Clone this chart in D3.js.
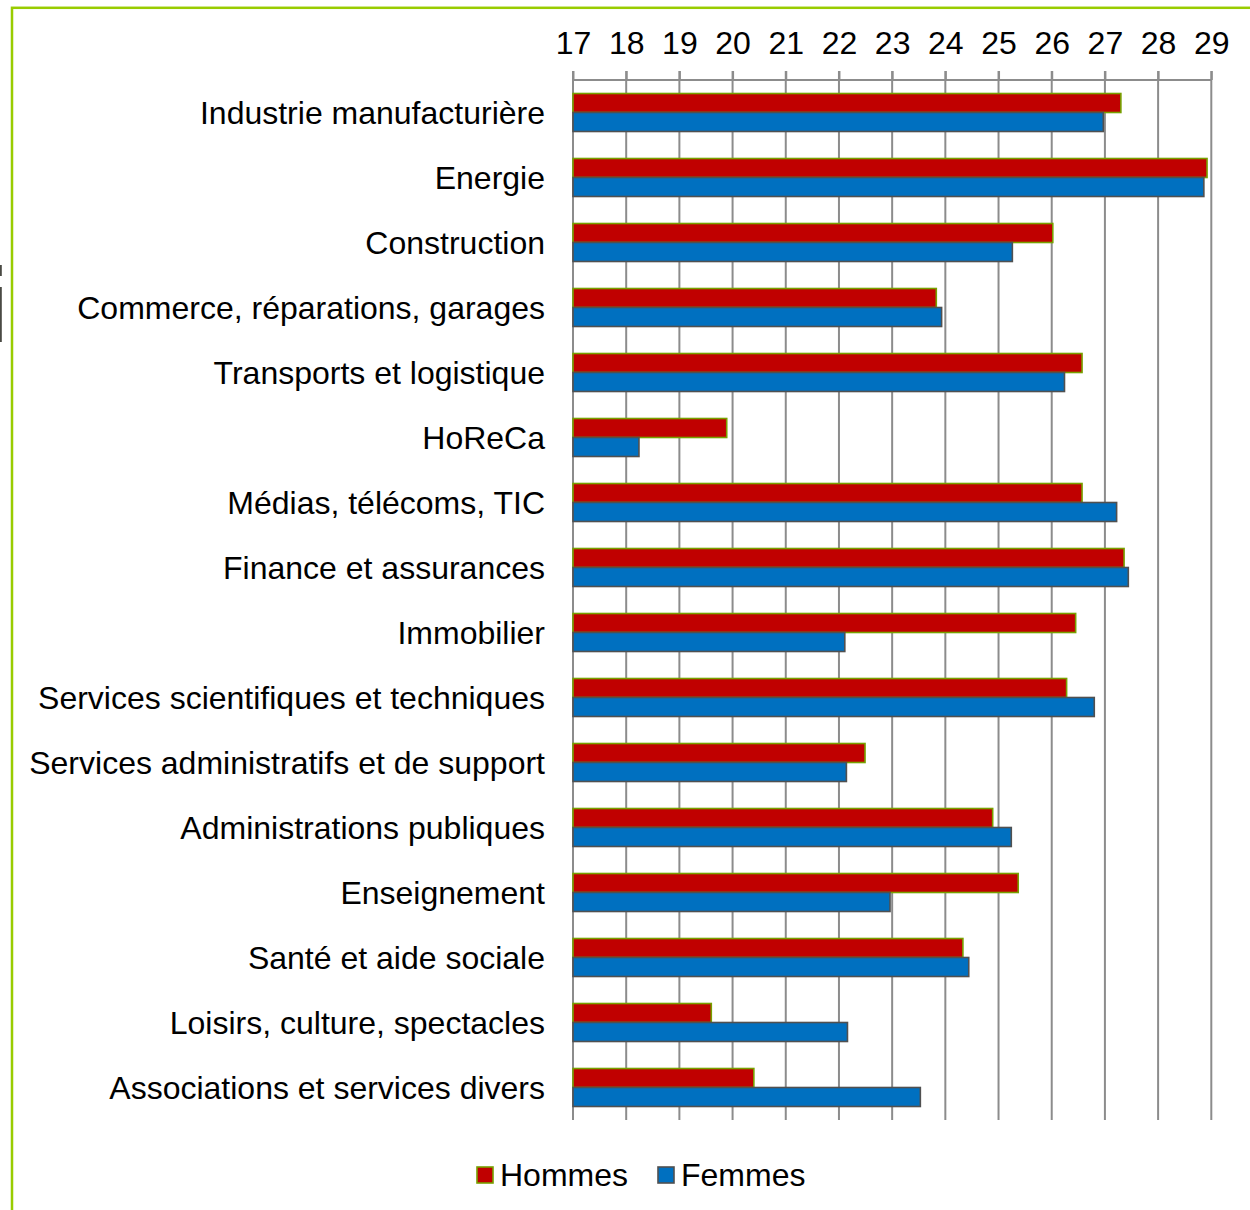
<!DOCTYPE html>
<html>
<head>
<meta charset="utf-8">
<script src="https://cdn.jsdelivr.net/npm/d3@7"></script>
<style>
  html, body { margin: 0; padding: 0; background: #fff; }
  svg { display: block; }
  text { font-family: "Liberation Sans", Arial, sans-serif; fill: #000; }
</style>
</head>
<body>
<svg id="chart" width="1250" height="1210"></svg>
<script>
// Secteurs d'activité
const categories = [
  "Industrie manufacturière",
  "Energie",
  "Construction",
  "Commerce, réparations, garages",
  "Transports et logistique",
  "HoReCa",
  "Médias, télécoms, TIC",
  "Finance et assurances",
  "Immobilier",
  "Services scientifiques et techniques",
  "Services administratifs et de support",
  "Administrations publiques",
  "Enseignement",
  "Santé et aide sociale",
  "Loisirs, culture, spectacles",
  "Associations et services divers"
];

const hommes = [27.3, 28.92, 26.02, 23.83, 26.57, 19.89, 26.57, 27.36, 26.45, 26.28, 22.49, 24.89, 25.37, 24.33, 19.6, 20.4];
const femmes = [26.97, 28.86, 25.26, 23.93, 26.24, 18.24, 27.22, 27.44, 22.11, 26.8, 22.14, 25.24, 22.96, 24.44, 22.16, 23.53];

const seriesNames = ["Hommes", "Femmes"];
const tickValues = [17, 18, 19, 20, 21, 22, 23, 24, 25, 26, 27, 28, 29];

const svg = d3.select("#chart");
const FONT = 32;

// Cadre vert
svg.append("rect")
  .attr("x", 12).attr("y", 7.8)
  .attr("width", 1300).attr("height", 1300)
  .attr("fill", "none")
  .attr("stroke", "#99CC00")
  .attr("stroke-width", 2.5);

// petits traits au bord gauche
svg.append("rect").attr("x", 0).attr("y", 265).attr("width", 1.8).attr("height", 11).attr("fill", "#4a4a44");
svg.append("rect").attr("x", 0).attr("y", 287).attr("width", 1.8).attr("height", 55).attr("fill", "#4a4a44");

const plot = { left: 573, right: 1211.3, top: 80, bottom: 1120 };

const x = d3.scaleLinear().domain([17, 29]).range([plot.left, plot.right]);
const y = d3.scaleBand().domain(categories).range([plot.top, plot.bottom]).paddingInner(0).paddingOuter(0);
const barH = 19;

// Quadrillage vertical
svg.append("g")
  .selectAll("line")
  .data(tickValues)
  .join("line")
  .attr("x1", d => x(d)).attr("x2", d => x(d))
  .attr("y1", plot.top - 9).attr("y2", plot.bottom)
  .attr("stroke", "#8C8C8C")
  .attr("stroke-width", 2);

// Axe supérieur
const axis = d3.axisTop(x).tickValues(tickValues).tickSize(9).tickPadding(17).tickFormat(d3.format("d"));
const gAxis = svg.append("g").attr("transform", `translate(0,${plot.top})`).call(axis);
gAxis.select(".domain").attr("stroke", "#8C8C8C").attr("stroke-width", 2).attr("d", `M${plot.left},0H${plot.right}`);
gAxis.selectAll(".tick line").attr("stroke", "#8C8C8C").attr("stroke-width", 2);
gAxis.selectAll(".tick text")
  .attr("font-family", "Liberation Sans, Arial, sans-serif")
  .attr("font-size", FONT)
  .attr("fill", "#000");

// Barres
const groups = svg.append("g")
  .selectAll("g")
  .data(categories)
  .join("g")
  .attr("transform", d => `translate(0,${y(d) + y.bandwidth() / 2})`);

groups.append("rect")
  .attr("x", x(17))
  .attr("y", -barH)
  .attr("width", (d, i) => x(hommes[i]) - x(17))
  .attr("height", barH)
  .attr("fill", "#C00000")
  .attr("stroke", "#77A000")
  .attr("stroke-width", 1.6);

groups.append("rect")
  .attr("x", x(17))
  .attr("y", 0)
  .attr("width", (d, i) => x(femmes[i]) - x(17))
  .attr("height", barH)
  .attr("fill", "#0070C0")
  .attr("stroke", "#505050")
  .attr("stroke-width", 1.6);

// Étiquettes des catégories
svg.append("g")
  .selectAll("text")
  .data(categories)
  .join("text")
  .attr("x", 545)
  .attr("y", d => y(d) + y.bandwidth() / 2)
  .attr("dy", "0.35em")
  .attr("text-anchor", "end")
  .attr("font-size", FONT)
  .text(d => d);

// Légende
const legend = svg.append("g");
const legendItems = [
  { name: seriesNames[0], fill: "#C00000", stroke: "#77A000", x: 476 },
  { name: seriesNames[1], fill: "#0070C0", stroke: "#505050", x: 657 }
];
legendItems.forEach(it => {
  legend.append("rect")
    .attr("x", it.x + 1).attr("y", 1167)
    .attr("width", 16).attr("height", 16)
    .attr("fill", it.fill)
    .attr("stroke", it.stroke)
    .attr("stroke-width", 1.6);
  legend.append("text")
    .attr("x", it.x + 24)
    .attr("y", 1175)
    .attr("dy", "0.35em")
    .attr("font-size", FONT)
    .text(it.name);
});
</script>
</body>
</html>
